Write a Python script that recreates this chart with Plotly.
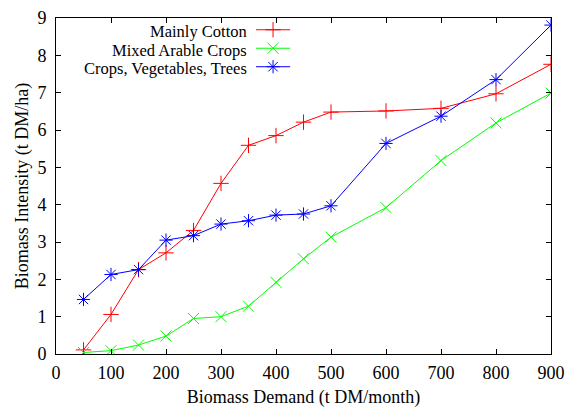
import plotly.graph_objects as go

demand = [50, 100, 150, 200, 250, 300, 350, 400, 450, 500, 600, 700, 800, 900]
cotton = [0.11, 1.06, 2.26, 2.71, 3.31, 4.57, 5.59, 5.85, 6.21, 6.48, 6.51, 6.58, 6.97, 7.76]
arable = [0.04, 0.09, 0.24, 0.48, 0.95, 1.00, 1.28, 1.92, 2.55, 3.13, 3.92, 5.18, 6.19, 6.99]
trees = [1.46, 2.13, 2.26, 3.05, 3.17, 3.48, 3.57, 3.72, 3.75, 3.97, 5.64, 6.37, 7.35, 8.81]
names = ["Mainly Cotton", "Mixed Arable Crops", "Crops, Vegetables, Trees"]
colors = ["#ff0000", "#00ff00", "#0000ff"]
symbols = ["cross-thin-open", "x-thin-open", "asterisk-open"]
series = [cotton, arable, trees]

font = "Liberation Serif, Times New Roman, serif"
fig = go.Figure()
for s, n, c, sym in zip(series, names, colors, symbols):
    fig.add_trace(go.Scatter(x=demand, y=s, mode="lines+markers", name=n,
                             line=dict(color=c, width=1),
                             marker=dict(symbol=sym, size=11, color=c, line=dict(color=c, width=1)),
                             showlegend=False))

# custom legend (text right-aligned, sample on right) on an overlay axis
leg_y = [0.965, 0.910, 0.855]
for n, c, sym, yy in zip(names, colors, symbols, leg_y):
    fig.add_trace(go.Scatter(x=[0.404, 0.473], y=[yy, yy], mode="lines", xaxis="x2", yaxis="y2",
                             line=dict(color=c, width=1), showlegend=False, hoverinfo="skip"))
    fig.add_trace(go.Scatter(x=[0.4385], y=[yy], mode="markers", xaxis="x2", yaxis="y2",
                             marker=dict(symbol=sym, size=11, color=c, line=dict(color=c, width=1)),
                             showlegend=False, hoverinfo="skip"))
    fig.add_annotation(x=0.388, y=yy - 0.006, xref="x2", yref="y2", text=n, showarrow=False,
                       xanchor="right", yanchor="middle", borderpad=0,
                       font=dict(family=font, size=16.5, color="black"))

axis_common = dict(showgrid=False, zeroline=False, showline=True, linecolor="black", linewidth=1,
                   mirror="ticks", ticks="inside", ticklen=5, tickcolor="black", automargin=False,
                   ticklabeloverflow="allow",
                   tickfont=dict(family=font, size=18, color="black"))
fig.update_layout(
    width=575, height=410,
    margin=dict(l=48, r=32, t=10, b=64),
    paper_bgcolor="white", plot_bgcolor="white",
    xaxis=dict(range=[0, 900], tickvals=[0, 100, 200, 300, 400, 500, 600, 700, 800, 900],
               ticklabelstandoff=2,
               title=dict(text="Biomass Demand (t DM/month)", font=dict(family=font, size=18, color="black"), standoff=8),
               **axis_common),
    yaxis=dict(range=[0, 9], tickvals=list(range(10)), ticklabelstandoff=5,
               title=dict(text="Biomass Intensity (t DM/ha)", font=dict(family=font, size=18, color="black"), standoff=4),
               **axis_common),
    xaxis2=dict(range=[0, 1], overlaying="x", visible=False),
    yaxis2=dict(range=[0, 1], overlaying="y", visible=False),
)
fig.write_html("out.html")
